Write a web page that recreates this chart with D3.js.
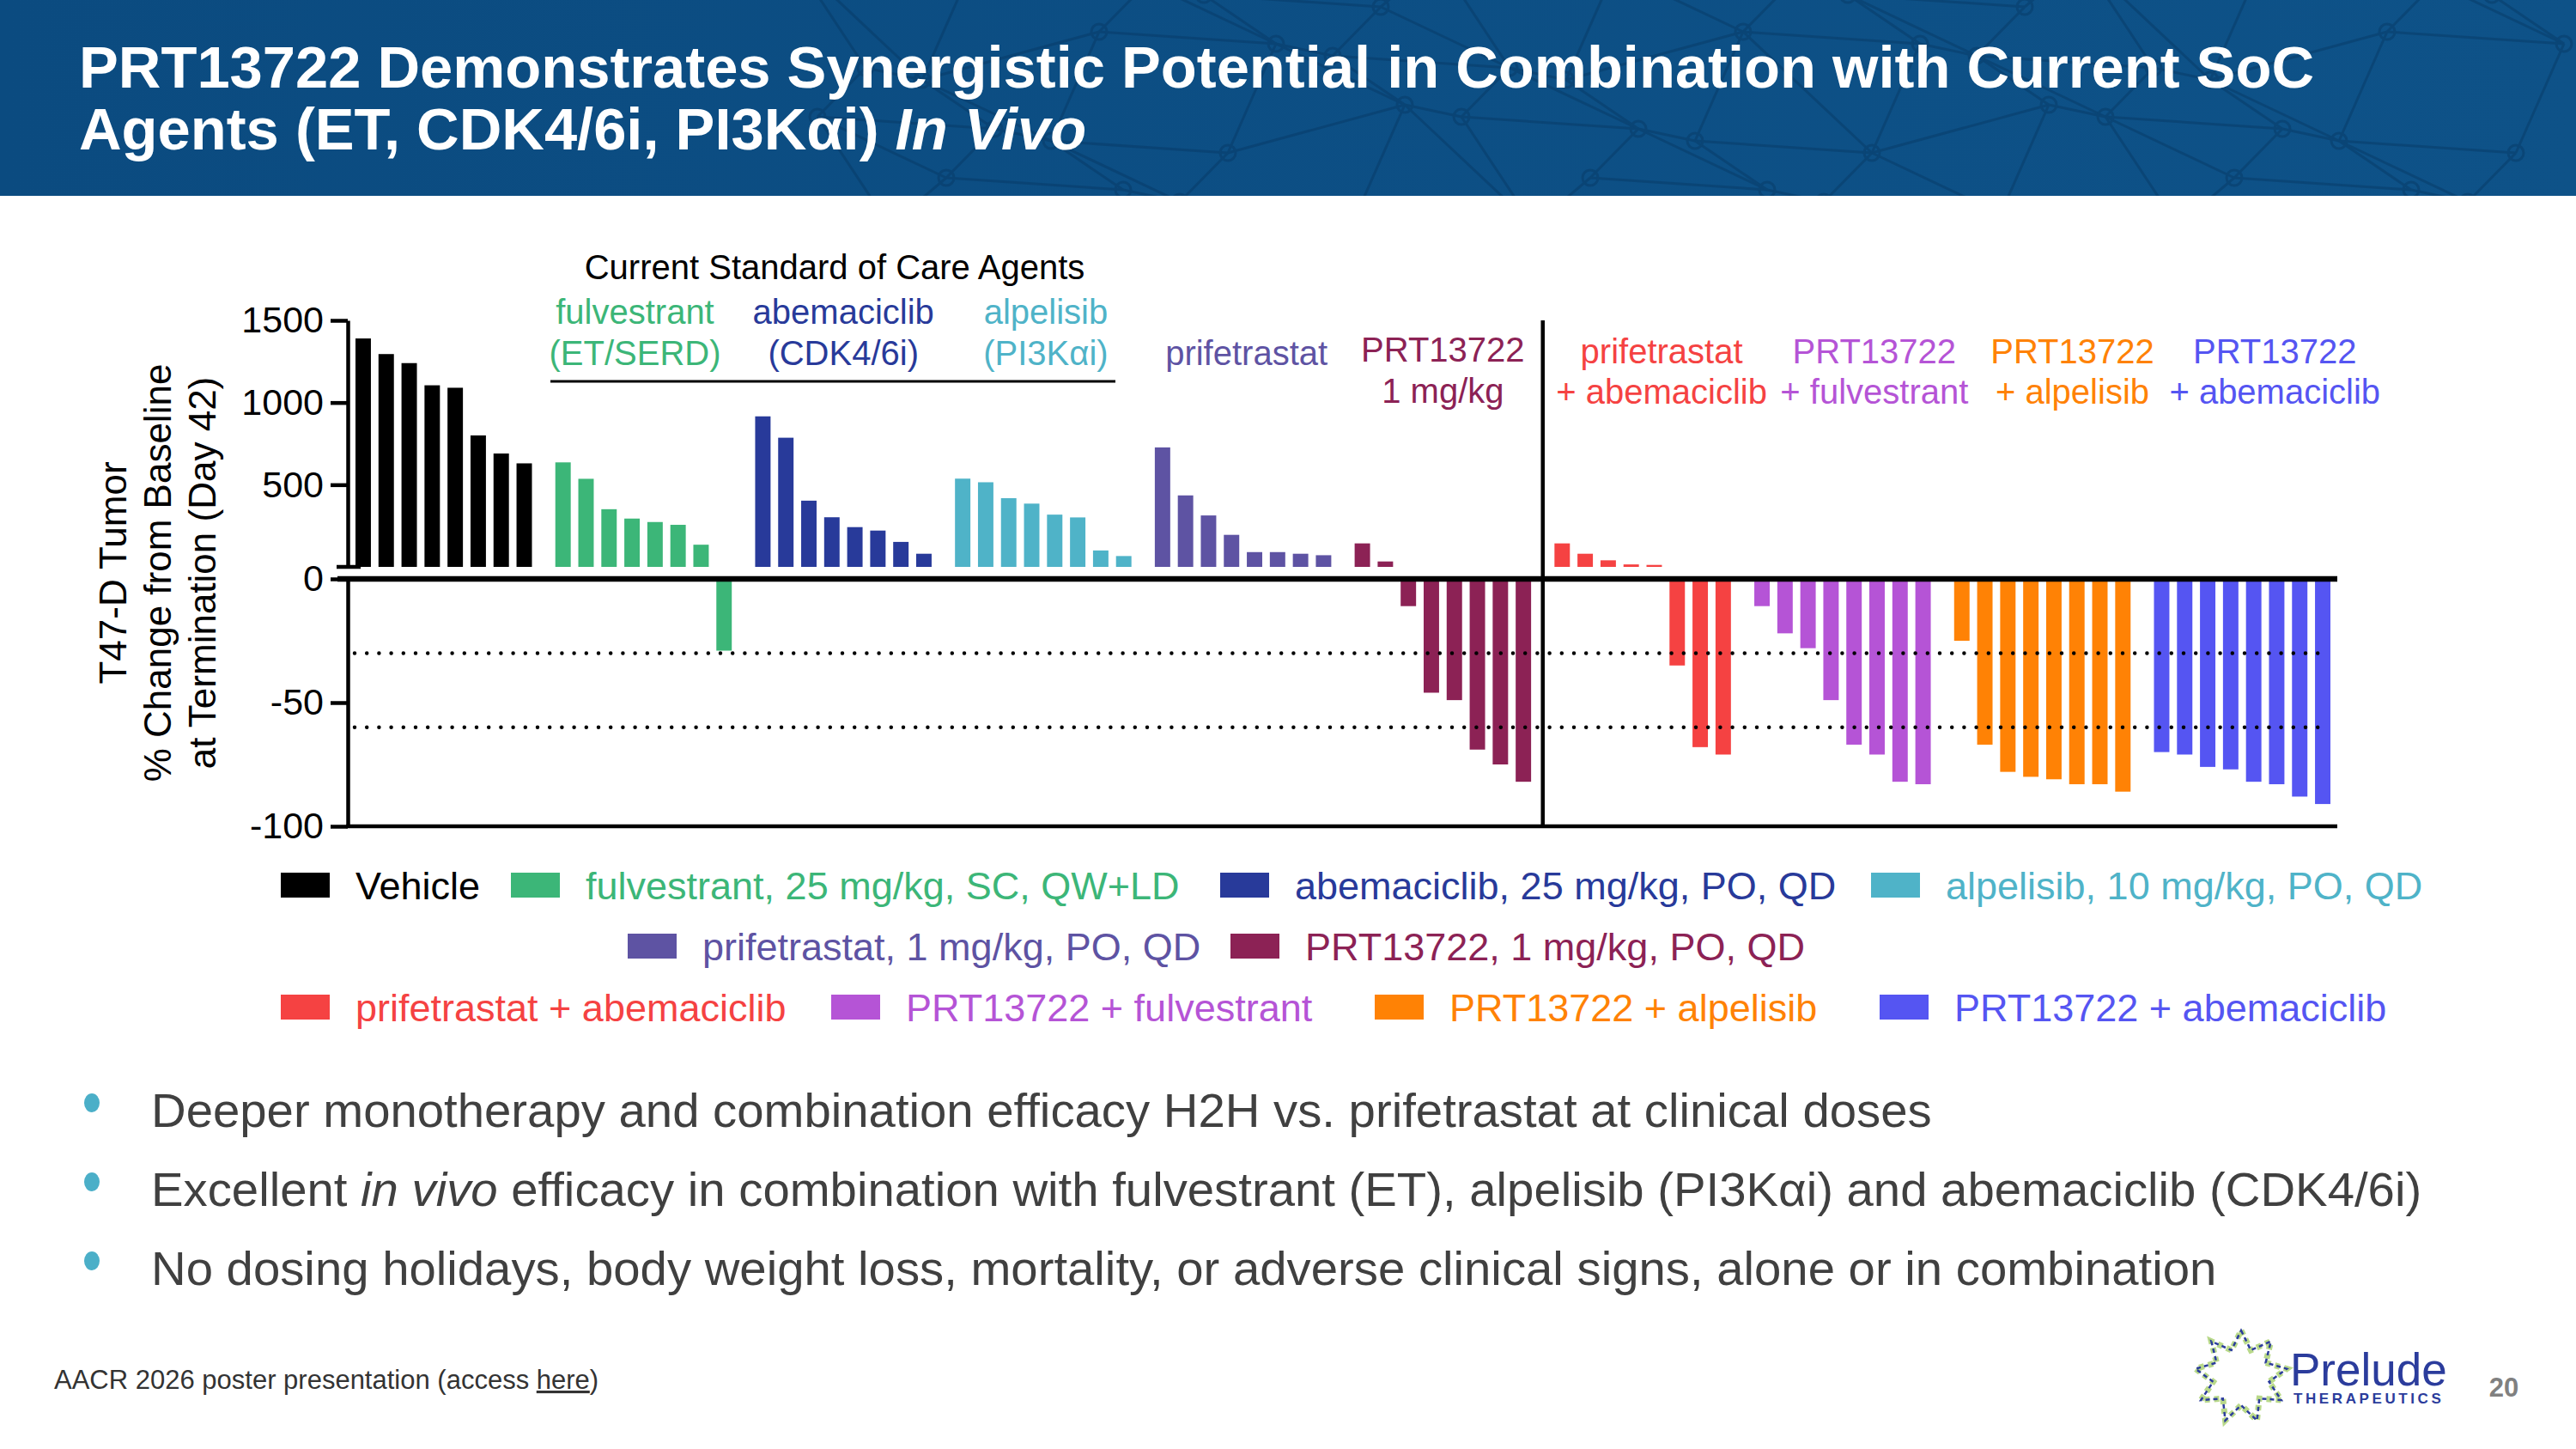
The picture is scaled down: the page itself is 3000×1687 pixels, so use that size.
<!DOCTYPE html>
<html>
<head>
<meta charset="utf-8">
<script src="https://cdn.jsdelivr.net/npm/d3@7"></script>
<style>
  body { margin: 0; background: #fff; }
  svg { display: block; font-family: "Liberation Sans", Arial, sans-serif; }
</style>
</head>
<body>
<div id="chart"></div>
<script>
const groups = ["Vehicle", "fulvestrant", "abemaciclib", "alpelisib", "prifetrastat",
  "PRT13722", "prifetrastat + abemaciclib", "PRT13722 + fulvestrant",
  "PRT13722 + alpelisib", "PRT13722 + abemaciclib"];

const vehicleValues = [1390, 1295, 1240, 1105, 1090, 800, 690, 630];
const fulvestrantValues = [636, 536, 351, 294, 273, 256, 135, -29];
const abemaciclibValues = [916, 786, 403, 302, 242, 221, 152, 80];
const alpelisibValues = [537, 515, 418, 385, 318, 301, 100, 66];
const prifetrastatValues = [727, 435, 313, 195, 90, 90, 80, 71];
const prt13722Values = [143, 33, -11, -46, -49, -69, -75, -82];
const prifAbemaValues = [143, 80, 40, 15, 12, -35, -68, -71];
const prtFulvValues = [-11, -22, -28, -49, -67, -71, -82, -83];
const prtAlpValues = [-25, -67, -78, -80, -81, -83, -83, -86];
const prtAbemaValues = [-70, -71, -76, -77, -82, -83, -88, -91];

const groupValues = [vehicleValues, fulvestrantValues, abemaciclibValues, alpelisibValues,
  prifetrastatValues, prt13722Values, prifAbemaValues, prtFulvValues, prtAlpValues, prtAbemaValues];

const groupColors = ["#000000", "#3cb678", "#283a9a", "#4fb3c8", "#5e53a3",
  "#8c2255", "#f54242", "#b554d6", "#ff8205", "#5555f2"];

// labels over the bars (one or two lines each)
const headerLines = [
  [],
  ["fulvestrant", "(ET/SERD)"],
  ["abemaciclib", "(CDK4/6i)"],
  ["alpelisib", "(PI3Kαi)"],
  ["prifetrastat"],
  ["PRT13722", "1 mg/kg"],
  ["prifetrastat", "+ abemaciclib"],
  ["PRT13722", "+ fulvestrant"],
  ["PRT13722", "+ alpelisib"],
  ["PRT13722", "+ abemaciclib"]
];

const legendLabels = ["Vehicle", "fulvestrant, 25 mg/kg, SC, QW+LD", "abemaciclib, 25 mg/kg, PO, QD",
  "alpelisib, 10 mg/kg, PO, QD", "prifetrastat, 1 mg/kg, PO, QD", "PRT13722, 1 mg/kg, PO, QD",
  "prifetrastat + abemaciclib", "PRT13722 + fulvestrant", "PRT13722 + alpelisib", "PRT13722 + abemaciclib"];

const topTicks = [500, 1000, 1500];
const bottomTicks = [0, -50, -100];
const thresholds = [-30, -60];

const width = 3000;
const height = 1687;
const headerH = 228;

const svg = d3.select("#chart")
  .append("svg")
    .attr("width", width)
    .attr("height", height)
    .attr("viewBox", `0 0 ${width} ${height}`);

//----- header band
const defs = svg.append("defs");
const grad = defs.append("linearGradient").attr("id", "hdr").attr("x1", 0).attr("x2", 1);
grad.append("stop").attr("offset", "0%").attr("stop-color", "#0b4b80");
grad.append("stop").attr("offset", "100%").attr("stop-color", "#0e5288");
defs.append("clipPath").attr("id", "hdrclip")
  .append("rect").attr("width", width).attr("height", headerH);

svg.append("rect")
  .attr("width", width).attr("height", headerH)
  .attr("fill", "url(#hdr)");

// faint molecular network in the right half of the band
const net = svg.append("g")
  .attr("clip-path", "url(#hdrclip)")
  .attr("opacity", 0.4);
const nodes = [];
for (let i = 0; i < 14; i++) {
  for (let j = 0; j < 4; j++) {
    nodes.push({
      i, j,
      x: 980 + i * 150 + (((i * 7 + j * 13) % 5) - 2) * 28,
      y: -20 + j * 85 + (((i * 11 + j * 3) % 5) - 2) * 14
    });
  }
}
const nodeAt = (i, j) => nodes.find(n => n.i === i && n.j === j);
const links = [];
nodes.forEach(n => {
  if (n.i < 13) links.push([n, nodeAt(n.i + 1, n.j)]);
  if (n.j < 3) links.push([n, nodeAt(n.i, n.j + 1)]);
  if (n.i < 13 && n.j < 3 && (n.i + n.j) % 2 === 0) links.push([n, nodeAt(n.i + 1, n.j + 1)]);
});
net.selectAll("line")
  .data(links)
  .join("line")
    .attr("x1", d => d[0].x).attr("y1", d => d[0].y)
    .attr("x2", d => d[1].x).attr("y2", d => d[1].y)
    .attr("stroke", "#06355f")
    .attr("stroke-width", 3);
net.selectAll("circle")
  .data(nodes)
  .join("circle")
    .attr("cx", d => d.x).attr("cy", d => d.y).attr("r", 9)
    .attr("fill", "none")
    .attr("stroke", "#06355f")
    .attr("stroke-width", 3);

const title = svg.append("text")
  .attr("fill", "#fff")
  .attr("font-weight", "bold")
  .attr("font-size", 68.7);
title.append("tspan").attr("x", 92).attr("y", 102)
  .text("PRT13722 Demonstrates Synergistic Potential in Combination with Current SoC");
const t2 = title.append("tspan").attr("x", 92).attr("y", 174);
t2.append("tspan").text("Agents (ET, CDK4/6i, PI3Kαi) ");
t2.append("tspan").attr("font-style", "italic").text("In Vivo");

//----- scales
const xGroup = d3.scaleBand()
  .domain(groups)
  .range([414, 2714])
  .paddingInner(0.117)
  .paddingOuter(0);

const xBar = d3.scaleBand()
  .domain(d3.range(8))
  .range([0, xGroup.bandwidth()])
  .paddingInner(0.33)
  .paddingOuter(0);

const yTop = d3.scaleLinear().domain([0, 1500]).range([660, 373]);
const yBot = d3.scaleLinear().domain([-100, 0]).range([962, 674]);

const axisX = 405;
const plotRight = 2722;

//flatten bars
const bars = [];
groups.forEach((g, gi) => {
  groupValues[gi].forEach((v, i) => bars.push({ group: g, gi, i, value: v }));
});

const chart = svg.append("g");

chart.selectAll(".bar")
  .data(bars)
  .join("rect")
    .attr("class", "bar")
    .attr("x", d => xGroup(d.group) + xBar(d.i))
    .attr("width", xBar.bandwidth())
    .attr("y", d => d.value >= 0 ? yTop(d.value) : yBot(0))
    .attr("height", d => d.value >= 0 ? yTop(0) - yTop(d.value) : yBot(d.value) - yBot(0))
    .attr("fill", d => groupColors[d.gi]);

// dotted response thresholds
chart.selectAll(".thr")
  .data(thresholds)
  .join("line")
    .attr("class", "thr")
    .attr("x1", 413).attr("x2", 2707)
    .attr("y1", d => yBot(d)).attr("y2", d => yBot(d))
    .attr("stroke", "#000")
    .attr("stroke-width", 4.5)
    .attr("stroke-linecap", "round")
    .attr("stroke-dasharray", "0 14.2");

//----- axes
const topAxis = d3.axisLeft(yTop)
  .tickValues(topTicks)
  .tickFormat(d => String(d))
  .tickSize(20)
  .tickSizeOuter(0)
  .tickPadding(8);
const botAxis = d3.axisLeft(yBot)
  .tickValues(bottomTicks)
  .tickFormat(d => String(d))
  .tickSize(20)
  .tickSizeOuter(0)
  .tickPadding(8);

[[topAxis, "top"], [botAxis, "bot"]].forEach(([ax, cls]) => {
  const g = svg.append("g")
    .attr("class", cls)
    .attr("transform", `translate(${axisX},0)`)
    .call(ax);
  g.select(".domain").attr("stroke-width", 4.5);
  g.selectAll(".tick line").attr("stroke-width", 4.5);
  g.selectAll(".tick text")
    .attr("font-size", 43)
    .attr("font-family", "Liberation Sans, Arial, sans-serif")
    .attr("fill", "#000");
});

// zero tick of the upper segment
svg.append("line")
  .attr("x1", 392).attr("x2", 420)
  .attr("y1", yTop(0)).attr("y2", yTop(0))
  .attr("stroke", "#000").attr("stroke-width", 4.5);

// zero line and floor of the lower segment
svg.append("line")
  .attr("x1", 393).attr("x2", plotRight)
  .attr("y1", yBot(0)).attr("y2", yBot(0))
  .attr("stroke", "#000").attr("stroke-width", 6.5);
svg.append("line")
  .attr("x1", axisX - 2).attr("x2", plotRight)
  .attr("y1", yBot(-100)).attr("y2", yBot(-100))
  .attr("stroke", "#000").attr("stroke-width", 4.5);

// divider between monotherapy and combination arms
const divX = (xGroup(groups[5]) + xGroup.bandwidth() + xGroup(groups[6])) / 2;
svg.append("line")
  .attr("x1", divX).attr("x2", divX)
  .attr("y1", yTop(1500)).attr("y2", yBot(-100))
  .attr("stroke", "#000").attr("stroke-width", 4.5);

// y axis title
const yTitle = ["T47-D Tumor", "% Change from Baseline", "at Termination (Day 42)"];
svg.selectAll(".ytitle")
  .data(yTitle)
  .join("text")
    .attr("class", "ytitle")
    .attr("transform", (d, i) => `translate(${131 + i * 52},667) rotate(-90)`)
    .attr("text-anchor", "middle")
    .attr("dominant-baseline", "central")
    .attr("font-size", 44)
    .text(d => d);

//----- labels above the arms
svg.append("text")
  .attr("x", 972).attr("y", 325)
  .attr("text-anchor", "middle")
  .attr("font-size", 40)
  .text("Current Standard of Care Agents");

svg.append("line")
  .attr("x1", 641).attr("x2", 1299)
  .attr("y1", 444).attr("y2", 444)
  .attr("stroke", "#000").attr("stroke-width", 3);

const labelDx = [0, -10, 0, 3, 4, 0, 22, 37, 35, 38];
const labelY = [[0], [377, 425], [377, 425], [377, 425], [425], [421, 469], [423, 470], [423, 470], [423, 470], [423, 470]];

groups.forEach((g, gi) => {
  const cx = xGroup(g) + xGroup.bandwidth() / 2 + labelDx[gi];
  headerLines[gi].forEach((line, li) => {
    svg.append("text")
      .attr("x", cx).attr("y", labelY[gi][li])
      .attr("text-anchor", "middle")
      .attr("font-size", 40)
      .attr("fill", groupColors[gi])
      .text(line);
  });
});

//----- legend
const legendRows = [[0, 1, 2, 3], [4, 5], [6, 7, 8, 9]];
const legendX = [[327, 595, 1421, 2179], [731, 1433], [327, 968, 1601, 2189]];
const legendY = [1031, 1102, 1173];

legendRows.forEach((row, ri) => {
  row.forEach((gi, k) => {
    const lx = legendX[ri][k];
    svg.append("rect")
      .attr("x", lx).attr("y", legendY[ri] - 15)
      .attr("width", 57).attr("height", 29)
      .attr("fill", groupColors[gi]);
    svg.append("text")
      .attr("x", lx + 87).attr("y", legendY[ri] + 16)
      .attr("font-size", 45)
      .attr("fill", groupColors[gi])
      .text(legendLabels[gi]);
  });
});

//----- bullet points
const bulletY = [1312, 1404, 1496];
const bullets = svg.append("g").attr("fill", "#404040").attr("font-size", 56.3);
bulletY.forEach(y => {
  svg.append("ellipse")
    .attr("cx", 107).attr("cy", y - 28)
    .attr("rx", 9).attr("ry", 11)
    .attr("fill", "#4bafc8");
});
bullets.append("text").attr("x", 176).attr("y", bulletY[0])
  .text("Deeper monotherapy and combination efficacy H2H vs. prifetrastat at clinical doses");
const b2 = bullets.append("text").attr("x", 176).attr("y", bulletY[1]);
b2.append("tspan").text("Excellent ");
b2.append("tspan").attr("font-style", "italic").text("in vivo");
b2.append("tspan").text(" efficacy in combination with fulvestrant (ET), alpelisib (PI3Kαi) and abemaciclib (CDK4/6i)");
bullets.append("text").attr("x", 176).attr("y", bulletY[2])
  .text("No dosing holidays, body weight loss, mortality, or adverse clinical signs, alone or in combination");

//----- footer
const foot = svg.append("text")
  .attr("x", 63).attr("y", 1617)
  .attr("font-size", 31)
  .attr("fill", "#333");
foot.append("tspan").text("AACR 2026 poster presentation (access ");
foot.append("tspan").attr("text-decoration", "underline").text("here");
foot.append("tspan").text(")");

svg.append("text")
  .attr("x", 2916).attr("y", 1626)
  .attr("text-anchor", "middle")
  .attr("font-size", 31)
  .attr("font-weight", "bold")
  .attr("fill", "#808080")
  .text("20");

// prelude logo
const star = d3.range(18).map(k => [k * Math.PI / 9, k % 2 === 0 ? 54 : 33]);
const starPath = d3.lineRadial().curve(d3.curveLinearClosed)(star);
const logo = svg.append("g").attr("transform", "translate(2610,1603)");
logo.append("path").attr("d", starPath)
  .attr("fill", "none").attr("stroke", "#b9d98a")
  .attr("stroke-width", 7).attr("stroke-dasharray", "6 5");
logo.append("path").attr("d", starPath)
  .attr("fill", "none").attr("stroke", "#2b3c9c")
  .attr("stroke-width", 2.5).attr("stroke-dasharray", "5 4");

svg.append("text")
  .attr("x", 2667).attr("y", 1613)
  .attr("font-size", 53)
  .attr("fill", "#2b3c9c")
  .text("Prelude");
svg.append("text")
  .attr("x", 2671).attr("y", 1634)
  .attr("font-size", 17)
  .attr("font-weight", "bold")
  .attr("letter-spacing", 3.6)
  .attr("fill", "#2b3c9c")
  .text("THERAPEUTICS");
</script>
</body>
</html>
